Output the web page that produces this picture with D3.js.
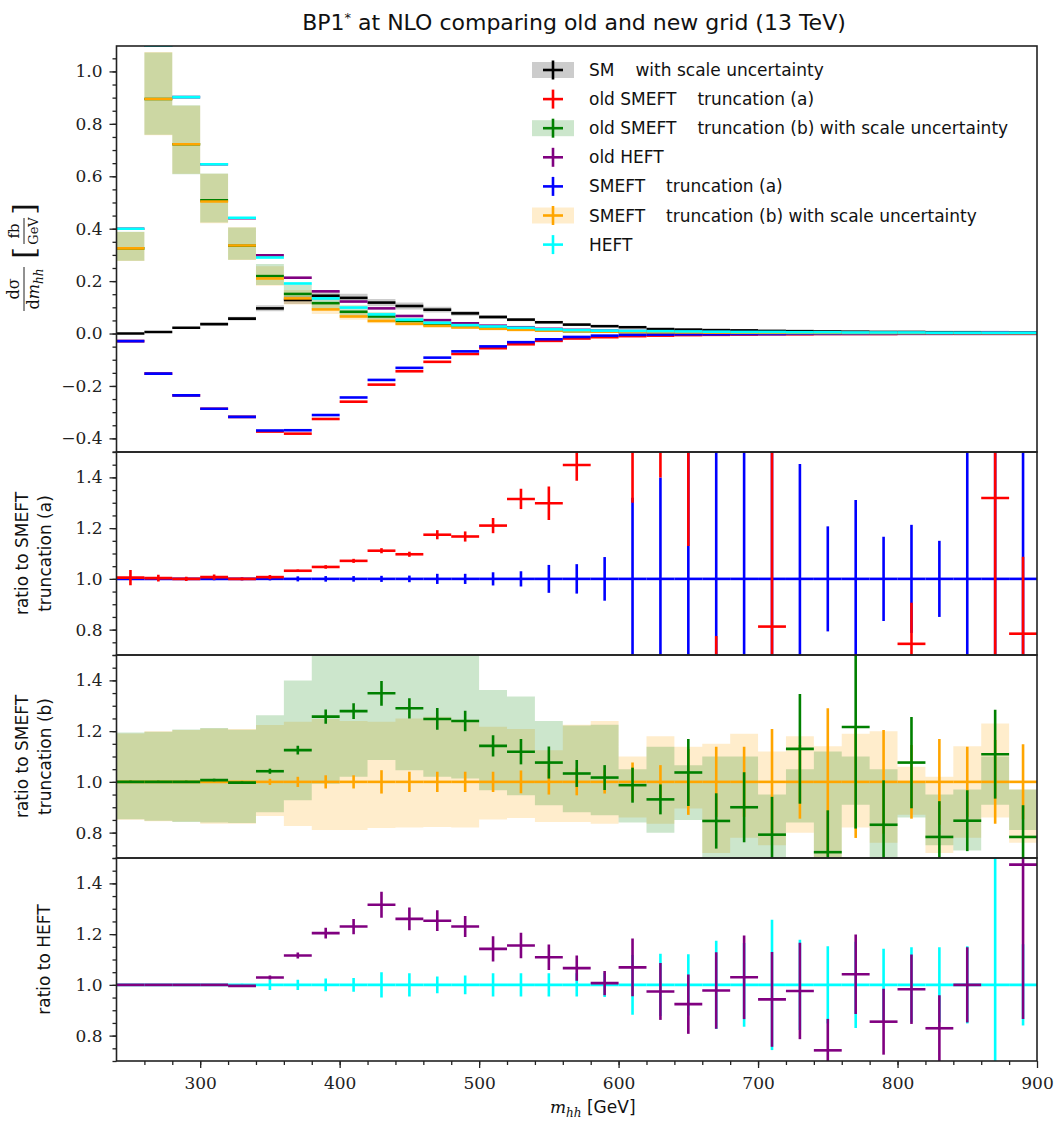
<!DOCTYPE html>
<html>
<head>
<meta charset="utf-8">
<script src="https://cdn.jsdelivr.net/npm/d3@7/dist/d3.min.js"></script>
<style>
  body { margin: 0; background: #fff; }
  text { font-family: "DejaVu Sans", sans-serif; fill: #111; }
  .tick text { font-family: "DejaVu Serif", serif; font-size: 17px; fill: #222; }
  .math { font-family: "DejaVu Serif", serif; }
</style>
</head>
<body>
<svg id="drawing_region"></svg>
<script>
// bin centres in GeV, each bin is 20 GeV wide
const bins = [250, 270, 290, 310, 330, 350, 370, 390, 410, 430, 450, 470, 490, 510, 530, 550, 570,
              590, 610, 630, 650, 670, 690, 710, 730, 750, 770, 790, 810, 830, 850, 870, 890];
const binWidth = 20;

// top panel: dsigma/dm_hh [fb/GeV]
const sm      = [0.000, 0.006, 0.022, 0.036, 0.057, 0.096, 0.128, 0.144, 0.136, 0.118, 0.105, 0.091, 0.077, 0.063, 0.053, 0.043, 0.034,
                 0.028, 0.024, 0.017, 0.015, 0.013, 0.012, 0.010, 0.009, 0.008, 0.007, 0.006, 0.006, 0.005, 0.005, 0.004, 0.004];
const smLo    = [0.000, 0.005, 0.019, 0.032, 0.050, 0.085, 0.113, 0.127, 0.120, 0.104, 0.092, 0.080, 0.068, 0.055, 0.047, 0.038, 0.030,
                 0.025, 0.021, 0.015, 0.013, 0.011, 0.010, 0.009, 0.008, 0.007, 0.006, 0.005, 0.005, 0.004, 0.004, 0.003, 0.003];
const smHi    = [0.000, 0.007, 0.025, 0.040, 0.064, 0.108, 0.143, 0.161, 0.152, 0.132, 0.118, 0.102, 0.086, 0.071, 0.059, 0.048, 0.038,
                 0.031, 0.027, 0.019, 0.017, 0.015, 0.013, 0.011, 0.010, 0.009, 0.008, 0.007, 0.007, 0.006, 0.006, 0.005, 0.005];
const oldSmeftA = [-0.029, -0.153, -0.236, -0.287, -0.318, -0.374, -0.382, -0.326, -0.260, -0.195, -0.144, -0.108, -0.078, -0.056, -0.041, -0.028, -0.019,
                   -0.014, -0.010, -0.008, -0.006, -0.005, -0.004, -0.003, -0.003, -0.002, -0.002, -0.002, -0.001, -0.001, -0.001, -0.001, -0.001];
const oldSmeftB = [0.325, 0.895, 0.722, 0.508, 0.335, 0.219, 0.151, 0.116, 0.083, 0.065, 0.048, 0.036, 0.029, 0.021, 0.016, 0.012, 0.0091,
                   0.0071, 0.0057, 0.0045, 0.0041, 0.0029, 0.0026, 0.0020, 0.0024, 0.0013, 0.0018, 0.0011, 0.0012, 0.0008, 0.0008, 0.0009, 0.0005];
const oldHeft   = [0.400, 1.098, 0.902, 0.646, 0.440, 0.298, 0.213, 0.161, 0.122, 0.096, 0.067, 0.051, 0.039, 0.030, 0.024, 0.018, 0.014,
                   0.011, 0.0096, 0.0078, 0.0065, 0.0059, 0.0052, 0.0045, 0.0040, 0.0030, 0.0035, 0.0028, 0.0030, 0.0022, 0.0025, 0.0050, 0.0035];
const smeftA    = [-0.029, -0.153, -0.236, -0.287, -0.318, -0.370, -0.369, -0.311, -0.244, -0.177, -0.131, -0.092, -0.068, -0.049, -0.033, -0.022, -0.013,
                   -0.008, -0.005, -0.004, -0.003, -0.003, -0.002, -0.002, -0.001, -0.001, -0.001, -0.001, -0.001, -0.001, -0.001, -0.001, -0.001];
const smeftB    = [0.325, 0.895, 0.722, 0.504, 0.336, 0.210, 0.134, 0.092, 0.065, 0.048, 0.037, 0.029, 0.023, 0.018, 0.014, 0.011, 0.0088,
                   0.0070, 0.0058, 0.0048, 0.0040, 0.0034, 0.0029, 0.0025, 0.0021, 0.0018, 0.0015, 0.0013, 0.0011, 0.0010, 0.0009, 0.0008, 0.0007];
const heft      = [0.400, 1.098, 0.902, 0.646, 0.442, 0.290, 0.191, 0.134, 0.099, 0.073, 0.053, 0.041, 0.032, 0.027, 0.022, 0.016, 0.013,
                   0.011, 0.010, 0.009, 0.008, 0.007, 0.006, 0.006, 0.005, 0.005, 0.004, 0.004, 0.004, 0.003, 0.003, 0.003, 0.003];

// ratio to SMEFT truncation (a)
const ratioA    = [1.005, 1.003, 1.000, 1.007, 1.000, 1.007, 1.032, 1.047, 1.071, 1.111, 1.097, 1.174, 1.167, 1.210, 1.315, 1.298, 1.449,
                   1.650, 1.720, 1.850, 1.700, 0.450, 1.900, 0.812, 1.950, 1.950, 1.950, 1.950, 0.744, 1.950, 1.950, 1.319, 0.784];
const ratioAErr = [0.030, 0.013, 0.008, 0.010, 0.005, 0.008, 0.005, 0.007, 0.008, 0.010, 0.010, 0.018, 0.020, 0.030, 0.040, 0.066, 0.062,
                   0.100, 0.420, 0.450, 0.570, 0.325, 0.300, 0.900, 0.200, 0.200, 0.200, 0.200, 0.162, 0.200, 0.200, 0.700, 0.303];
const smeftAErr = [0.004, 0.005, 0.005, 0.005, 0.005, 0.006, 0.010, 0.011, 0.011, 0.012, 0.013, 0.020, 0.020, 0.026, 0.030, 0.055, 0.058,
                   0.086, 0.320, 0.400, 0.600, 0.600, 0.600, 0.500, 0.453, 0.207, 0.311, 0.166, 0.213, 0.150, 0.700, 0.600, 0.800];

// ratio to SMEFT truncation (b)
const ratioB    = [1.000, 1.000, 1.000, 1.007, 0.997, 1.042, 1.125, 1.257, 1.279, 1.349, 1.290, 1.248, 1.240, 1.142, 1.119, 1.076, 1.033,
                   1.017, 0.987, 0.931, 1.037, 0.846, 0.900, 0.792, 1.130, 0.723, 1.216, 0.831, 1.076, 0.783, 0.847, 1.109, 0.783];
const ratioBErr = [0.004, 0.004, 0.004, 0.005, 0.004, 0.010, 0.017, 0.028, 0.031, 0.049, 0.040, 0.043, 0.040, 0.042, 0.050, 0.063, 0.053,
                   0.049, 0.069, 0.059, 0.132, 0.109, 0.138, 0.149, 0.216, 0.165, 0.400, 0.175, 0.180, 0.141, 0.120, 0.175, 0.125];
const smeftBErr = [0.004, 0.004, 0.004, 0.004, 0.004, 0.012, 0.020, 0.026, 0.026, 0.046, 0.040, 0.040, 0.040, 0.040, 0.045, 0.050, 0.053,
                   0.046, 0.076, 0.066, 0.130, 0.138, 0.138, 0.208, 0.145, 0.290, 0.221, 0.204, 0.145, 0.169, 0.138, 0.165, 0.148];
// scale uncertainty bands, relative to SMEFT truncation (b)
const smeftBLo  = [0.851, 0.845, 0.844, 0.835, 0.835, 0.866, 0.826, 0.810, 0.810, 0.818, 0.820, 0.822, 0.820, 0.852, 0.858, 0.842, 0.842,
                   0.835, 0.860, 0.835, 0.895, 0.720, 0.780, 0.750, 0.800, 0.700, 0.820, 0.760, 0.870, 0.720, 0.780, 0.860, 0.760];
const smeftBHi  = [1.191, 1.200, 1.204, 1.210, 1.208, 1.224, 1.237, 1.248, 1.240, 1.237, 1.250, 1.257, 1.245, 1.217, 1.208, 1.125, 1.225,
                   1.240, 1.100, 1.180, 1.138, 1.150, 1.190, 1.120, 1.180, 1.140, 1.190, 1.200, 1.060, 1.020, 1.140, 1.230, 0.970];
const oldBLo    = [0.853, 0.847, 0.842, 0.840, 0.838, 0.880, 0.928, 0.993, 1.020, 1.086, 1.046, 1.020, 1.013, 0.967, 0.947, 0.908, 0.880,
                   0.868, 0.840, 0.800, 0.850, 0.700, 0.700, 0.700, 0.840, 0.700, 0.910, 0.700, 0.860, 0.750, 0.730, 0.910, 0.810];
const oldBHi    = [1.195, 1.198, 1.206, 1.212, 1.205, 1.263, 1.400, 1.620, 1.660, 1.700, 1.640, 1.600, 1.580, 1.362, 1.336, 1.240, 1.222,
                   1.225, 1.050, 1.138, 1.066, 1.100, 1.100, 0.950, 1.050, 1.120, 1.100, 1.050, 1.000, 0.950, 0.970, 1.100, 0.970];

// ratio to HEFT
const ratioH    = [1.000, 1.000, 1.000, 1.000, 0.996, 1.029, 1.116, 1.204, 1.230, 1.316, 1.260, 1.253, 1.230, 1.142, 1.155, 1.109, 1.066,
                   1.007, 1.069, 0.974, 0.924, 0.978, 1.030, 0.943, 0.976, 0.742, 1.042, 0.855, 0.983, 0.829, 1.000, 1.900, 1.474];
const ratioHErr = [0.003, 0.003, 0.003, 0.003, 0.004, 0.008, 0.012, 0.021, 0.030, 0.051, 0.045, 0.041, 0.041, 0.050, 0.050, 0.050, 0.050,
                   0.048, 0.114, 0.112, 0.117, 0.151, 0.165, 0.187, 0.190, 0.124, 0.157, 0.130, 0.137, 0.130, 0.148, 0.200, 0.608];
const heftErr   = [0.003, 0.003, 0.003, 0.003, 0.004, 0.020, 0.020, 0.025, 0.027, 0.050, 0.046, 0.033, 0.037, 0.046, 0.046, 0.046, 0.046,
                   0.048, 0.118, 0.123, 0.121, 0.174, 0.165, 0.257, 0.178, 0.152, 0.170, 0.142, 0.148, 0.148, 0.152, 0.800, 0.160];

const legendItems = [
    { name: 'SM', desc: 'with scale uncertainty', color: 'black', band: true },
    { name: 'old SMEFT', desc: 'truncation (a)', color: '#ff0000', band: false },
    { name: 'old SMEFT', desc: 'truncation (b) with scale uncertainty', color: '#008000', band: true },
    { name: 'old HEFT', desc: '', color: '#800080', band: false },
    { name: 'SMEFT', desc: 'truncation (a)', color: '#0000ff', band: false },
    { name: 'SMEFT', desc: 'truncation (b) with scale uncertainty', color: '#ffa500', band: true },
    { name: 'HEFT', desc: '', color: '#00ffff', band: false }
];

class RatioPlot {
    constructor(config) {
        this.config = config;
        this.init();
    }
    init() {
        let self = this;
        const c = self.config;
        self.svg = d3.select(c.parent)
            .attr('width', c.width)
            .attr('height', c.height);

        self.xscale = d3.scaleLinear()
            .domain([240, 900])
            .range([c.left, c.right]);

        self.panels = c.panels.map((p, i) => {
            const y = d3.scaleLinear().domain(p.domain).range([p.bottom, p.top]);
            const clipId = 'clip' + i;
            self.svg.append('clipPath').attr('id', clipId)
                .append('rect')
                .attr('x', c.left).attr('y', p.top)
                .attr('width', c.right - c.left).attr('height', p.bottom - p.top);
            const g = self.svg.append('g').attr('clip-path', `url(#${clipId})`);
            return { y, g, p };
        });
    }
    band(panel, lo, hi, color, opacity) {
        let self = this;
        const rows = bins.map((b, i) => ({ x: b - binWidth / 2, lo: lo[i], hi: hi[i] }));
        const last = rows[rows.length - 1];
        rows.push({ x: last.x + binWidth, lo: last.lo, hi: last.hi });
        const area = d3.area()
            .curve(d3.curveStepAfter)
            .x(d => self.xscale(d.x))
            .y0(d => panel.y(d.lo))
            .y1(d => panel.y(d.hi));
        panel.g.append('path').datum(rows)
            .attr('d', area)
            .attr('fill', color)
            .attr('fill-opacity', opacity);
    }
    steps(panel, vals, errs, color) {
        let self = this;
        const rows = bins.map((b, i) => ({ b, v: vals[i], e: errs ? errs[i] : 0 }));
        const g = panel.g.append('g');
        g.selectAll('line.h').data(rows).join('line')
            .attr('class', 'h')
            .attr('x1', d => self.xscale(d.b - binWidth / 2))
            .attr('x2', d => self.xscale(d.b + binWidth / 2))
            .attr('y1', d => panel.y(d.v))
            .attr('y2', d => panel.y(d.v))
            .attr('stroke', color)
            .attr('stroke-width', 2.6);
        if (errs) {
            g.selectAll('line.v').data(rows).join('line')
                .attr('class', 'v')
                .attr('x1', d => self.xscale(d.b))
                .attr('x2', d => self.xscale(d.b))
                .attr('y1', d => panel.y(d.v - d.e))
                .attr('y2', d => panel.y(d.v + d.e))
                .attr('stroke', color)
                .attr('stroke-width', 2.6);
        }
    }
    axes() {
        let self = this;
        const c = self.config;
        self.panels.forEach(panel => {
            const major = d3.axisLeft(panel.y)
                .tickValues(panel.p.ticks)
                .tickFormat(d3.format('.1f'))
                .tickSizeInner(7).tickSizeOuter(0).tickPadding(7);
            const minor = d3.axisLeft(panel.y)
                .tickValues(panel.p.minor)
                .tickFormat('')
                .tickSizeInner(4).tickSizeOuter(0);
            const ga = self.svg.append('g').attr('transform', `translate(${c.left},0)`).call(major);
            const gm = self.svg.append('g').attr('transform', `translate(${c.left},0)`).call(minor);
            [ga, gm].forEach(g => {
                g.select('.domain').remove();
                g.selectAll('.tick line').attr('stroke', '#222').attr('stroke-width', 1.3);
            });
            self.svg.append('rect')
                .attr('x', c.left).attr('y', panel.p.top)
                .attr('width', c.right - c.left).attr('height', panel.p.bottom - panel.p.top)
                .attr('fill', 'none').attr('stroke', '#222').attr('stroke-width', 1.6);
        });

        const last = self.panels[self.panels.length - 1];
        const xmajor = d3.axisBottom(self.xscale)
            .tickValues([300, 400, 500, 600, 700, 800, 900])
            .tickFormat(d3.format('d'))
            .tickSizeInner(7).tickSizeOuter(0).tickPadding(9);
        const xminor = d3.axisBottom(self.xscale)
            .tickValues(d3.range(260, 900, 20))
            .tickFormat('')
            .tickSizeInner(4).tickSizeOuter(0);
        [xmajor, xminor].forEach(ax => {
            const g = self.svg.append('g').attr('transform', `translate(0,${last.p.bottom})`).call(ax);
            g.select('.domain').remove();
            g.selectAll('.tick line').attr('stroke', '#222').attr('stroke-width', 1.3);
        });
    }
    render() {
        let self = this;
        const [top, pa, pb, ph] = self.panels;
        const col = {};
        legendItems.forEach((d, i) => col[i] = d.color);

        // top panel
        self.band(top, smLo, smHi, 'black', 0.2);
        self.band(top, smeftB.map((v, i) => v * smeftBLo[i]), smeftB.map((v, i) => v * smeftBHi[i]), '#ffa500', 0.2);
        self.band(top, smeftB.map((v, i) => v * oldBLo[i]), smeftB.map((v, i) => v * oldBHi[i]), '#008000', 0.2);
        self.steps(top, sm, null, col[0]);
        self.steps(top, oldSmeftA, null, col[1]);
        self.steps(top, oldSmeftB, null, col[2]);
        self.steps(top, oldHeft, null, col[3]);
        self.steps(top, smeftA, null, col[4]);
        self.steps(top, smeftB, null, col[5]);
        self.steps(top, heft, null, col[6]);

        // ratio panels
        const ones = bins.map(() => 1);
        self.steps(pa, ones, smeftAErr, col[4]);
        self.steps(pa, ratioA, ratioAErr, col[1]);

        self.band(pb, smeftBLo, smeftBHi, '#ffa500', 0.2);
        self.band(pb, oldBLo, oldBHi, '#008000', 0.2);
        self.steps(pb, ones, smeftBErr, col[5]);
        self.steps(pb, ratioB, ratioBErr, col[2]);

        self.steps(ph, ones, heftErr, col[6]);
        self.steps(ph, ratioH, ratioHErr, col[3]);

        self.axes();
        self.legend();
        self.labels();
    }
    legend() {
        let self = this;
        const lg = self.svg.append('g').attr('transform', 'translate(553,70)');
        const rows = lg.selectAll('g').data(legendItems).join('g')
            .attr('transform', (d, i) => `translate(0,${i * 29.1})`);
        rows.filter(d => d.band).append('rect')
            .attr('x', -21).attr('y', -8).attr('width', 42).attr('height', 16)
            .attr('fill', d => d.color).attr('fill-opacity', 0.2);
        rows.append('line').attr('x1', -10).attr('x2', 10).attr('y1', 0).attr('y2', 0)
            .attr('stroke', d => d.color).attr('stroke-width', 2.6);
        rows.append('line').attr('x1', 0).attr('x2', 0).attr('y1', -9.5).attr('y2', 9.5)
            .attr('stroke', d => d.color).attr('stroke-width', 2.6);
        const t = rows.append('text').attr('x', 36).attr('y', 6).style('font-size', '17px');
        t.append('tspan').text(d => d.name);
        t.append('tspan').attr('dx', 21).text(d => d.desc);
    }
    labels() {
        let self = this;
        const c = self.config;
        const midX = (c.left + c.right) / 2;
        self.svg.append('text')
            .attr('x', 574).attr('y', 30)
            .attr('text-anchor', 'middle')
            .style('font-size', '22px')
            .text('BP1')
            .append('tspan').attr('dy', -8).style('font-size', '13px').text('*')
            .select(function () { return this.parentNode; })
            .append('tspan').attr('dy', 8).text(' at NLO comparing old and new grid (13 TeV)');

        // x label
        const xl = self.svg.append('text')
            .attr('x', midX + 16).attr('y', 1113)
            .attr('text-anchor', 'middle')
            .style('font-size', '17px');
        xl.append('tspan').attr('class', 'math').style('font-style', 'italic').text('m');
        xl.append('tspan').attr('class', 'math').style('font-style', 'italic')
            .style('font-size', '12px').attr('dy', 4).text('hh');
        xl.append('tspan').attr('dy', -4).text(' [GeV]');

        // y label of the distribution panel
        const yl = self.svg.append('g').attr('transform', 'translate(24,243) rotate(-90)');
        yl.append('text').attr('class', 'math').attr('x', -46).attr('y', -5)
            .attr('text-anchor', 'middle').style('font-size', '16px').text('dσ');
        yl.append('line').attr('x1', -68).attr('x2', -24).attr('y1', 0).attr('y2', 0)
            .attr('stroke', '#222').attr('stroke-width', 1);
        const den = yl.append('text').attr('class', 'math').attr('x', -46).attr('y', 15)
            .attr('text-anchor', 'middle').style('font-size', '16px');
        den.append('tspan').text('d');
        den.append('tspan').style('font-style', 'italic').text('m');
        den.append('tspan').style('font-style', 'italic').style('font-size', '12px').attr('dy', 4).text('hh');
        yl.append('text').attr('class', 'math').attr('x', -10).attr('y', 10)
            .attr('text-anchor', 'middle').style('font-size', '30px').text('[');
        yl.append('text').attr('class', 'math').attr('x', 12).attr('y', -5)
            .attr('text-anchor', 'middle').style('font-size', '15px').text('fb');
        yl.append('line').attr('x1', -1).attr('x2', 25).attr('y1', 0).attr('y2', 0)
            .attr('stroke', '#222').attr('stroke-width', 1);
        yl.append('text').attr('class', 'math').attr('x', 12).attr('y', 14)
            .attr('text-anchor', 'middle').style('font-size', '13px').text('GeV');
        yl.append('text').attr('class', 'math').attr('x', 34).attr('y', 10)
            .attr('text-anchor', 'middle').style('font-size', '30px').text(']');

        // y labels of the ratio panels
        const ratioLabels = [['ratio to SMEFT', 'truncation (a)'], ['ratio to SMEFT', 'truncation (b)'], ['ratio to HEFT']];
        ratioLabels.forEach((lines, i) => {
            const p = self.panels[i + 1].p;
            const cy = (p.top + p.bottom) / 2;
            lines.forEach((s, j) => {
                const x = lines.length === 1 ? 44 : 22 + j * 23;
                self.svg.append('text')
                    .attr('transform', `translate(${x},${cy}) rotate(-90)`)
                    .attr('text-anchor', 'middle')
                    .attr('dy', '0.35em')
                    .style('font-size', '17px')
                    .text(s);
            });
        });
    }
}

const ratioTicks = [0.8, 1.0, 1.2, 1.4];
const ratioMinor = d3.range(0.7, 1.5001, 0.05).map(v => +v.toFixed(2));
const plot = new RatioPlot({
    parent: '#drawing_region',
    width: 1060,
    height: 1124,
    left: 116.5,
    right: 1037,
    panels: [
        { top: 46, bottom: 452, domain: [-0.452, 1.097], ticks: [-0.4, -0.2, 0.0, 0.2, 0.4, 0.6, 0.8, 1.0],
          minor: d3.range(-0.45, 1.1, 0.05).map(v => +v.toFixed(2)) },
        { top: 452, bottom: 655, domain: [0.7, 1.5], ticks: ratioTicks, minor: ratioMinor },
        { top: 655, bottom: 858, domain: [0.7, 1.5], ticks: ratioTicks, minor: ratioMinor },
        { top: 858, bottom: 1061, domain: [0.7, 1.5], ticks: ratioTicks, minor: ratioMinor }
    ]
});
plot.render();
</script>
</body>
</html>
